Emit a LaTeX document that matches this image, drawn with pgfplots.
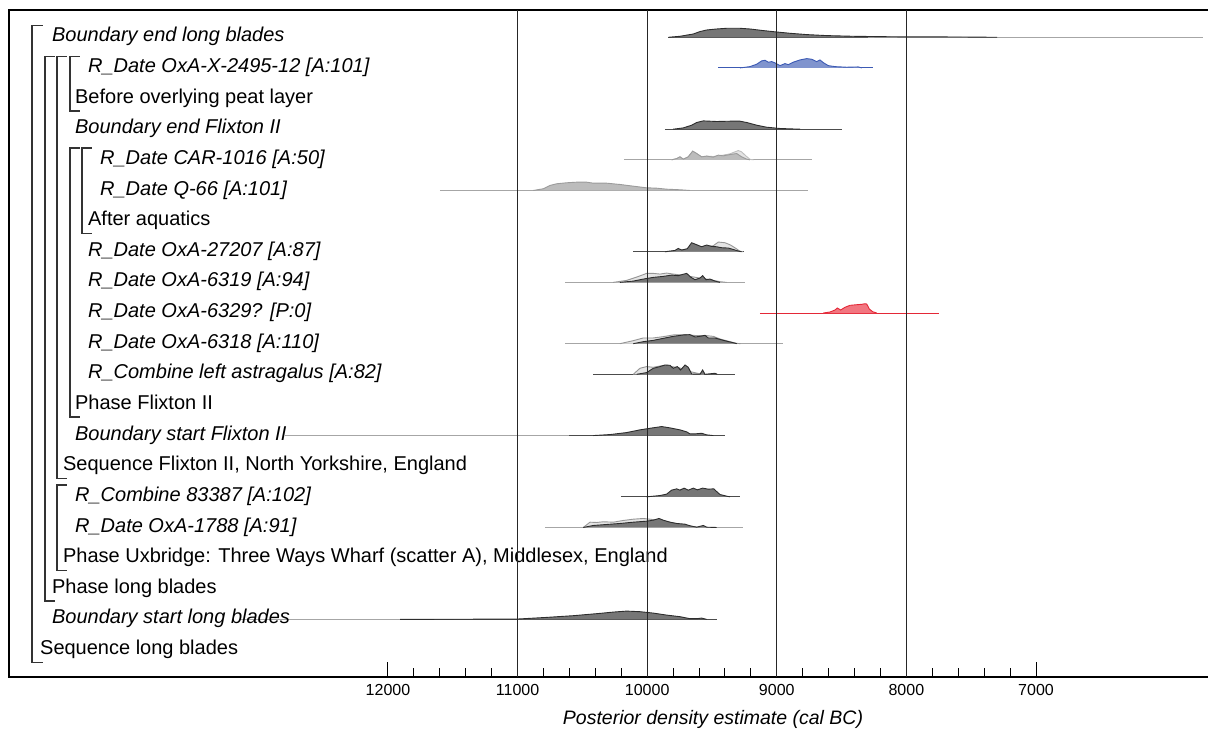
\documentclass[border=0pt]{standalone}
\usepackage{fontspec}
\setmainfont{Liberation Sans}
\usepackage{pgfplots}
\pgfplotsset{compat=1.18}
\definecolor{postfill}{RGB}{118,118,118}
\definecolor{postline}{RGB}{45,45,45}
\definecolor{priorfill}{RGB}{228,228,228}
\definecolor{priorline}{RGB}{150,150,150}
\definecolor{lightfill}{RGB}{188,188,188}
\definecolor{lightline}{RGB}{155,155,155}
\definecolor{bluefill}{RGB}{128,148,206}
\definecolor{blueline}{RGB}{60,90,180}
\definecolor{redfill}{RGB}{242,118,128}
\definecolor{redline}{RGB}{228,40,55}
\newcommand\lab{\fontsize{20}{24}\selectfont}
\pgfplotsset{
  table/r/.style={row sep=\\, y expr=-#1+\thisrowno{1}*0.03265},
  post/.style={fill=postfill, draw=postline, line width=0.9pt},
  prior/.style={fill=priorfill, draw=priorline, line width=0.9pt},
  lpost/.style={fill=lightfill, draw=lightline, line width=0.9pt},
  dbase/.style={black!70, line width=1pt},
  lbase/.style={black!35, line width=1pt},
}
\begin{document}
\begin{tikzpicture}
\begin{axis}[name=ax, at={(0,0)}, anchor=south west,
  width=1199pt, height=667pt, scale only axis,
  xmin=5673, xmax=14924, x dir=reverse,
  ymin=-21.88, ymax=-0.109,
  axis line style={draw=none},
  ytick=\empty,
  scaled x ticks=false,
  xtick={12000,11000,10000,9000,8000,7000},
  xticklabels={12000,11000,10000,9000,8000,7000},
  minor xtick={11800,11600,11400,11200,10800,10600,10400,10200,9800,9600,9400,9200,8800,8600,8400,8200,7800,7600,7400,7200},
  xtick pos=bottom, tick align=inside,
  major tick length=15pt, minor tick length=9pt,
  every tick/.style={black, line width=1pt},
  xticklabel style={font=\fontsize{16}{19}\selectfont},
  xticklabel shift=4pt,
  clip=false,
]
% axis frame (no right side)
\draw[line width=2pt] (rel axis cs:1,1) -- (rel axis cs:0,1) -- (rel axis cs:0,0) -- (rel axis cs:1,0);

% ---- row 1: Boundary end long blades
\addplot[lbase] coordinates {(9837,-1) (5711,-1)};
\addplot[dbase] coordinates {(9837,-1) (8300,-1)};
\addplot[post] table[r=1] {x h\\ 9837 0\\ 9747 1\\ 9644 3.3\\ 9593 5.7\\ 9541 7.3\\ 9464 8.3\\ 9387 9\\ 9284 9\\ 9207 8.3\\ 9104 6.7\\ 9001 5.3\\ 8898 4\\ 8769 2.7\\ 8615 1.7\\ 8410 1\\ 8101 0.5\\ 7586 0.3\\ 7300 0\\};

% ---- row 2: OxA-X-2495-12 (blue)
\addplot[blueline, line width=1pt] coordinates {(9451,-2) (8255,-2)};
\addplot[fill=bluefill, draw=blueline, line width=0.9pt] table[r=2] {x h\\ 9284 0\\ 9207 1.3\\ 9155 3.7\\ 9117 7\\ 9091 7.7\\ 9066 5.7\\ 9039 6.3\\ 9014 5\\ 8975 2.3\\ 8937 4.3\\ 8911 3.3\\ 8873 5.7\\ 8821 8\\ 8769 9.3\\ 8731 8.7\\ 8692 6.3\\ 8667 8\\ 8641 5.3\\ 8603 2.3\\ 8551 1.3\\ 8461 0.7\\ 8371 1\\ 8345 0\\};

% ---- row 4: Boundary end Flixton II
\addplot[dbase] coordinates {(9863,-4) (8499,-4)};
\addplot[post] table[r=4] {x h\\ 9799 0\\ 9721 1.3\\ 9657 4\\ 9618 6.7\\ 9567 8.3\\ 9464 7.7\\ 9361 8\\ 9284 8\\ 9232 6.7\\ 9155 4\\ 9078 2\\ 8975 0.7\\ 8821 0\\};

% ---- row 5: CAR-1016
\addplot[lbase] coordinates {(10179,-5) (8731,-5)};
\addplot[fill=priorfill, draw=black!25, line width=0.9pt] table[r=5] {x h\\ 9811 0\\ 9772 1.3\\ 9747 3\\ 9721 0.7\\ 9683 3\\ 9649 8.7\\ 9618 6.3\\ 9580 3\\ 9541 3.7\\ 9490 3.3\\ 9413 4.7\\ 9361 6\\ 9336 7.3\\ 9297 9.3\\ 9271 8\\ 9245 4.7\\ 9207 0.5\\ 9180 0\\};
\addplot[lpost] table[r=5] {x h\\ 9811 0\\ 9772 1.3\\ 9747 3\\ 9721 0.7\\ 9683 3\\ 9649 8.7\\ 9618 6.3\\ 9580 3\\ 9541 3.7\\ 9490 2.7\\ 9451 4.7\\ 9413 4\\ 9361 5.3\\ 9309 6.3\\ 9271 3\\ 9232 0.7\\ 9207 0\\};

% ---- row 6: Q-66
\addplot[lbase] coordinates {(11599,-6) (8759,-6)};
\addplot[lpost] table[r=6] {x h\\ 10879 0\\ 10802 1.7\\ 10750 5\\ 10698 6.7\\ 10621 7.7\\ 10544 8.3\\ 10467 8.3\\ 10416 7.3\\ 10313 7.3\\ 10210 6\\ 10107 4.3\\ 10007 2.7\\ 9927 2.3\\ 9850 1.3\\ 9747 0.7\\ 9670 0\\};

% ---- row 8: OxA-27207
\addplot[dbase] coordinates {(10107,-8) (9251,-8)};
\addplot[prior] table[r=8] {x h\\ 9863 0\\ 9772 1\\ 9670 3\\ 9618 4\\ 9541 5\\ 9490 6\\ 9451 9.7\\ 9400 9\\ 9361 7\\ 9323 4\\ 9284 0.5\\ 9260 0\\};
\addplot[post] table[r=8] {x h\\ 9863 0\\ 9786 1.3\\ 9760 3.3\\ 9734 1.7\\ 9691 3\\ 9657 9\\ 9618 7\\ 9580 5\\ 9541 6.7\\ 9502 5.3\\ 9464 5\\ 9425 4\\ 9374 3.7\\ 9336 2.3\\ 9297 0.7\\ 9271 0\\};

% ---- row 9: OxA-6319
\addplot[lbase] coordinates {(10634,-9) (9245,-9)};
\addplot[prior] table[r=9] {x h\\ 10262 0\\ 10158 2\\ 10081 5.3\\ 10004 9\\ 9953 9\\ 9901 8.3\\ 9850 9.3\\ 9799 8.3\\ 9734 7.3\\ 9670 6\\ 9593 4.3\\ 9515 2.7\\ 9438 0.7\\ 9387 0\\};
\addplot[post] table[r=9] {x h\\ 10210 0\\ 10107 1.3\\ 10030 3.3\\ 9953 5\\ 9876 6\\ 9811 7.3\\ 9760 6.7\\ 9734 7.7\\ 9695 9\\ 9665 5.3\\ 9631 2.7\\ 9593 4.3\\ 9572 6.7\\ 9546 2.7\\ 9515 3.3\\ 9477 1.3\\ 9438 0\\};

% ---- row 10: OxA-6329? (red)
\addplot[redline, line width=1pt] coordinates {(9130,-10) (7746,-10)};
\addplot[fill=redfill, draw=redline, line width=0.9pt] table[r=10] {x h\\ 8641 0\\ 8590 1\\ 8551 3\\ 8533 5\\ 8507 3\\ 8474 5.7\\ 8435 7.7\\ 8384 8.3\\ 8345 8.7\\ 8319 9.3\\ 8306 9\\ 8286 4\\ 8260 1.3\\ 8229 0\\};

% ---- row 11: OxA-6318
\addplot[lbase] coordinates {(10634,-11) (8950,-11)};
\addplot[prior] table[r=11] {x h\\ 10210 0\\ 10107 3\\ 10030 5.7\\ 9953 5.7\\ 9876 7\\ 9799 8.7\\ 9695 9\\ 9618 8\\ 9541 8\\ 9490 7.3\\ 9438 4.7\\ 9361 2\\ 9309 0.3\\ 9280 0\\};
\addplot[post] table[r=11] {x h\\ 10107 0\\ 10030 2\\ 9953 3.3\\ 9876 5.3\\ 9799 7.3\\ 9721 8.7\\ 9670 9\\ 9631 6.7\\ 9593 7.3\\ 9554 8.3\\ 9529 5.7\\ 9477 5.7\\ 9413 3.3\\ 9348 1.3\\ 9309 0\\};

% ---- row 12: Combine left astragalus
\addplot[dbase] coordinates {(10418,-12) (9323,-12)};
\addplot[prior] table[r=12] {x h\\ 10107 0\\ 10056 6\\ 10004 7.7\\ 9953 7\\ 9901 8.3\\ 9850 9\\ 9811 7.7\\ 9747 6.3\\ 9670 2.7\\ 9593 0.5\\ 9560 0\\};
\addplot[post] table[r=12] {x h\\ 10081 0\\ 10004 1.7\\ 9953 6\\ 9901 7.7\\ 9863 9.3\\ 9824 9\\ 9799 6\\ 9768 7.7\\ 9742 4.3\\ 9708 9.3\\ 9683 7\\ 9657 0.3\\ 9593 0\\ 9572 4.3\\ 9554 0\\ 9477 1\\ 9459 0\\};

% ---- row 14: Boundary start Flixton II
\addplot[lbase] coordinates {(12795,-14) (9400,-14)};
\addplot[dbase] coordinates {(10600,-14) (9400,-14)};
\addplot[post] table[r=14] {x h\\ 10416 0\\ 10287 1\\ 10158 3\\ 10056 5.7\\ 9978 7.3\\ 9888 9\\ 9824 7.7\\ 9747 5.7\\ 9695 3.7\\ 9670 1.7\\ 9631 1.7\\ 9580 2.3\\ 9541 0.7\\ 9490 0\\};

% ---- row 16: Combine 83387
\addplot[dbase] coordinates {(10202,-16) (9284,-16)};
\addplot[post] table[r=16] {x h\\ 10004 0\\ 9901 1.3\\ 9850 2.7\\ 9811 6.7\\ 9772 8\\ 9747 6.7\\ 9716 8.7\\ 9683 6.7\\ 9644 8.7\\ 9613 7\\ 9572 8.7\\ 9529 7.7\\ 9485 8\\ 9464 5.3\\ 9438 2.3\\ 9387 0.7\\ 9361 0\\};

% ---- row 17: OxA-1788
\addplot[lbase] coordinates {(10789,-17) (9259,-17)};
\addplot[prior] table[r=17] {x h\\ 10493 0\\ 10441 5.3\\ 10390 5\\ 10339 5.7\\ 10262 5.3\\ 10184 7\\ 10107 8.3\\ 10030 9\\ 9978 8.3\\ 9901 6.7\\ 9824 5.3\\ 9747 3\\ 9670 1.3\\ 9593 0\\};
\addplot[post] table[r=17] {x h\\ 10493 0\\ 10416 2\\ 10313 3\\ 10210 4\\ 10107 5.3\\ 10004 6.3\\ 9953 7.3\\ 9909 9\\ 9876 7.3\\ 9824 5.3\\ 9772 4\\ 9708 3.3\\ 9670 1.7\\ 9618 0.3\\ 9567 2\\ 9541 0.3\\ 9464 0\\};

% ---- row 20: Boundary start long blades
\addplot[lbase] coordinates {(13142,-20) (9464,-20)};
\addplot[dbase] coordinates {(11900,-20) (9464,-20)};
\addplot[post] table[r=20] {x h\\ 11907 0\\ 11007 0.3\\ 10775 2\\ 10570 3.7\\ 10364 6\\ 10262 7.3\\ 10158 8.3\\ 10056 7.7\\ 9953 6.3\\ 9850 4.3\\ 9747 2.7\\ 9670 0.7\\ 9618 0.7\\ 9580 1.3\\ 9541 0\\};

% ---- labels
\begin{scope}[every node/.style={anchor=base west, inner sep=0pt, font=\lab}]
\node at (axis cs:14593,-1.15) {\itshape Boundary end long blades};
\node at (axis cs:14315,-2.15) {\itshape R\_Date OxA-X-2495-12 [A:101]};
\node at (axis cs:14415,-3.15) {Before overlying peat layer};
\node at (axis cs:14415,-4.15) {\itshape Boundary end Flixton II};
\node at (axis cs:14222,-5.15) {\itshape R\_Date CAR-1016 [A:50]};
\node at (axis cs:14222,-6.15) {\itshape R\_Date Q-66 [A:101]};
\node at (axis cs:14315,-7.15) {After aquatics};
\node at (axis cs:14315,-8.15) {\itshape R\_Date OxA-27207 [A:87]};
\node at (axis cs:14315,-9.15) {\itshape R\_Date OxA-6319 [A:94]};
\node at (axis cs:14315,-10.15) {\itshape R\_Date OxA-6329? [P:0]};
\node at (axis cs:14315,-11.15) {\itshape R\_Date OxA-6318 [A:110]};
\node at (axis cs:14315,-12.15) {\itshape R\_Combine left astragalus [A:82]};
\node at (axis cs:14415,-13.15) {Phase Flixton II};
\node at (axis cs:14415,-14.15) {\itshape Boundary start Flixton II};
\node at (axis cs:14508,-15.15) {Sequence Flixton II, North Yorkshire, England};
\node at (axis cs:14415,-16.15) {\itshape R\_Combine 83387 [A:102]};
\node at (axis cs:14415,-17.15) {\itshape R\_Date OxA-1788 [A:91]};
\node at (axis cs:14508,-18.15) {Phase Uxbridge: Three Ways Wharf (scatter A), Middlesex, England};
\node at (axis cs:14593,-19.15) {Phase long blades};
\node at (axis cs:14593,-20.15) {\itshape Boundary start long blades};
\node at (axis cs:14685,-21.15) {Sequence long blades};
\end{scope}

% ---- brackets
\begin{scope}[black!80, line width=1.5pt]
\draw (axis cs:14662,-0.62) -- (axis cs:14747,-0.62) -- (axis cs:14747,-21.4) -- (axis cs:14662,-21.4);
\draw (axis cs:14570,-1.62) -- (axis cs:14647,-1.62) -- (axis cs:14647,-19.4) -- (axis cs:14570,-19.4);
\draw (axis cs:14477,-1.62) -- (axis cs:14554,-1.62) -- (axis cs:14554,-15.4) -- (axis cs:14477,-15.4);
\draw (axis cs:14377,-1.62) -- (axis cs:14454,-1.62) -- (axis cs:14454,-3.4) -- (axis cs:14377,-3.4);
\draw (axis cs:14377,-4.62) -- (axis cs:14454,-4.62) -- (axis cs:14454,-13.4) -- (axis cs:14377,-13.4);
\draw (axis cs:14284,-4.62) -- (axis cs:14361,-4.62) -- (axis cs:14361,-7.4) -- (axis cs:14284,-7.4);
\draw (axis cs:14477,-15.62) -- (axis cs:14554,-15.62) -- (axis cs:14554,-18.4) -- (axis cs:14477,-18.4);
\end{scope}

% ---- grid lines on top
\addplot[black!85, line width=0.9pt] coordinates {(11000,-21.88) (11000,-0.109)};
\addplot[black!85, line width=0.9pt] coordinates {(10000,-21.88) (10000,-0.109)};
\addplot[black!85, line width=0.9pt] coordinates {(9000,-21.88) (9000,-0.109)};
\addplot[black!85, line width=0.9pt] coordinates {(8000,-21.88) (8000,-0.109)};

\node[font=\fontsize{19.5}{23}\selectfont\itshape, anchor=center] at (axis cs:9492,-21.88) [yshift=-42pt] {Posterior density estimate (cal BC)};
\end{axis}
\pgfresetboundingbox
\path[use as bounding box] (ax.south west) ++(-9pt,-61pt) rectangle ([yshift=10pt]ax.north east);
\end{tikzpicture}
\end{document}
